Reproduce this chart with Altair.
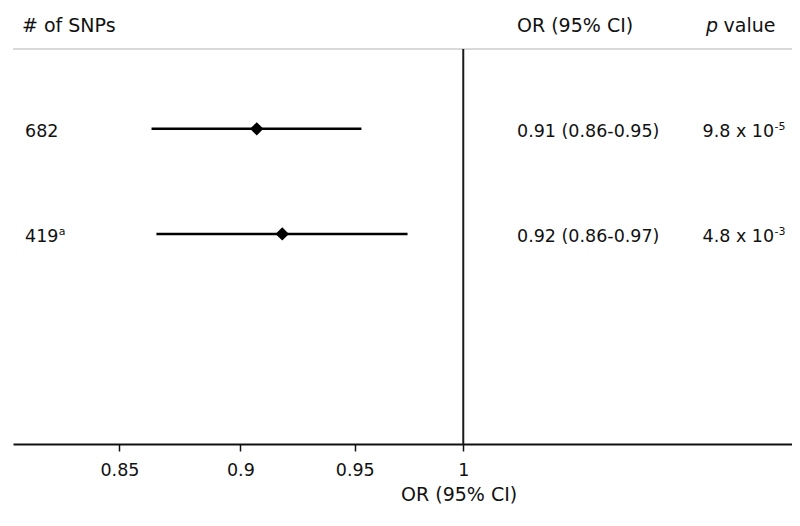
import altair as alt
import pandas as pd

# ---- data ----
snps = ["682", "419"]
snps_sup = ["", "a"]
rows = [1, 2]
or_est = [0.907, 0.918]
ci_low = [0.863, 0.865]
ci_high = [0.953, 0.974]
or_text = ["0.91 (0.86-0.95)", "0.92 (0.86-0.97)"]
p_mantissa = ["9.8 x 10", "4.8 x 10"]
p_exponent = ["-5", "-3"]
tick_values = [0.85, 0.9, 0.95, 1]
x_domain = [0.8083, 1.1681]
ref_value = 1

df = pd.DataFrame({
    "snps": snps, "sup": snps_sup, "row": rows, "or": or_est, "lo": ci_low, "hi": ci_high,
    "or_text": or_text, "p_m": p_mantissa, "p_e": p_exponent,
})

FONT = "DejaVu Sans"
W, H = 779, 395

x_scale = alt.Scale(type="log", domain=x_domain, nice=False, zero=False)
y_scale = alt.Scale(domain=[0.24, 4.0], reverse=True, nice=False, zero=False)

base = alt.Chart(df)

x_axis = alt.Axis(
    values=tick_values, format="~g", grid=False,
    domainColor="#111", domainWidth=2, tickColor="#111", tickWidth=1.5, tickSize=7,
    labelFont=FONT, labelFontSize=17.5, labelColor="#111", labelBaseline="alphabetic",
    labelPadding=24, labelFlush=False,
    title="OR (95% CI)", titleFont=FONT, titleFontSize=19, titleFontWeight="normal",
    titleColor="#111", titleBaseline="alphabetic", titleY=56, titleX=445.6,
    titleAlign="center", titleAnchor="start",
)

ci = base.mark_rule(color="#000", strokeWidth=2.5).encode(
    x=alt.X("lo:Q", scale=x_scale, axis=x_axis),
    x2="hi:Q",
    y=alt.Y("row:Q", scale=y_scale, axis=None),
)

pts = base.mark_point(shape="diamond", filled=True, size=180, color="#000", opacity=1).encode(
    x=alt.X("or:Q", scale=x_scale),
    y=alt.Y("row:Q", scale=y_scale),
)

ref_line = alt.Chart(pd.DataFrame({"v": [ref_value]})).mark_rule(
    color="#1a1a1a", strokeWidth=2
).encode(
    x=alt.X("v:Q", scale=x_scale),
    y=alt.value(0), y2=alt.value(H),
)

top_line = alt.Chart(pd.DataFrame({"v": [0]})).mark_rule(
    color="#d9d9d9", strokeWidth=2
).encode(x=alt.value(0), x2=alt.value(W), y=alt.value(0))

def row_text(field, xpix, size=17.5, dy=8.5):
    return base.mark_text(
        align="left", baseline="alphabetic", font=FONT, fontSize=size, color="#111", dy=dy
    ).encode(
        x=alt.value(xpix),
        y=alt.Y("row:Q", scale=y_scale),
        text=f"{field}:N",
    )

lbl = row_text("snps", 12)
lbl_sup = row_text("sup", 45.8, size=11, dy=1.5)
ort = row_text("or_text", 504)
pm = row_text("p_m", 689.5)
pe = row_text("p_e", 761.5, size=11, dy=1.5)

def header(txt, xpix, italic=False):
    return alt.Chart(pd.DataFrame({"t": [txt]})).mark_text(
        align="left", baseline="alphabetic", font=FONT, fontSize=19, color="#111",
        fontStyle="italic" if italic else "normal",
    ).encode(x=alt.value(xpix), y=alt.value(-17.5), text="t:N")

h1 = header("# of SNPs", 9)
h2 = header("OR (95% CI)", 504)
h3 = header("p", 693, italic=True)
h4 = header("value", 710.5)

chart = alt.layer(
    top_line, ref_line, ci, pts, lbl, lbl_sup, ort, pm, pe, h1, h2, h3, h4
).properties(
    width=W, height=H,
    autosize=alt.AutoSizeParams(type="none"),
    padding={"left": 5, "top": 41, "right": 0, "bottom": 74},
    background="white",
).configure_view(stroke=None)

chart.save("out.html", embed_options={"renderer": "svg", "actions": False})
